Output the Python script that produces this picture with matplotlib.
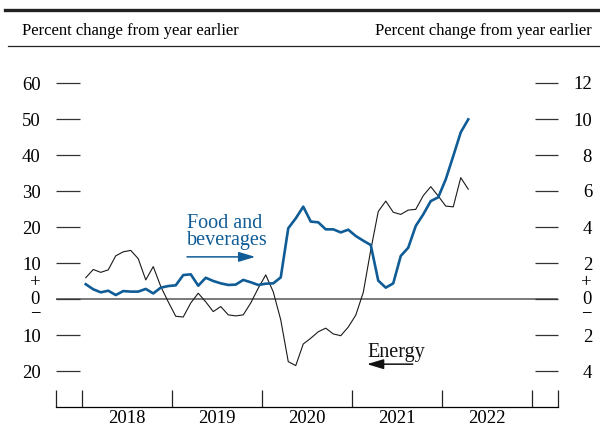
import matplotlib
matplotlib.use("Agg")
import matplotlib.pyplot as plt
from matplotlib.lines import Line2D
import numpy as np

plt.rcParams['font.family'] = ['Liberation Serif', 'DejaVu Serif']

# Monthly data, Jan 2018 - Apr 2022
energy = [5.9, 8.2, 7.4, 8.1, 12.0, 13.1, 13.5, 11.2, 5.3, 9.0, 3.5, -0.8,
          -4.8, -5.0, -1.1, 1.6, -0.8, -3.5, -2.1, -4.4, -4.7, -4.4, -1.1, 3.0,
          6.7, 2.0, -5.8, -17.4, -18.5, -12.5, -10.9, -9.1, -8.1, -9.7, -10.2, -7.8,
          -4.5, 1.8, 13.6, 24.3, 27.2, 24.1, 23.5, 24.7, 24.9, 28.7, 31.2, 28.6,
          25.8, 25.6, 33.7, 30.5]
food = [0.82, 0.54, 0.37, 0.46, 0.22, 0.44, 0.41, 0.41, 0.56, 0.31, 0.63, 0.72,
        0.76, 1.33, 1.37, 0.74, 1.18, 1.00, 0.87, 0.78, 0.80, 1.06, 0.93, 0.78,
        0.85, 0.87, 1.20, 3.93, 4.48, 5.13, 4.30, 4.26, 3.87, 3.87, 3.70, 3.85,
        3.50, 3.24, 3.00, 1.02, 0.63, 0.87, 2.39, 2.85, 4.06, 4.70, 5.44, 5.65,
        6.65, 7.94, 9.26, 9.98]
years = ["2018", "2019", "2020", "2021", "2022"]
left_ticks = [-20, -10, 0, 10, 20, 30, 40, 50, 60]
right_ticks = [-4, -2, 0, 2, 4, 6, 8, 10, 12]


def tick_text(v):
    return '+\n0\n\u2212' if v == 0 else str(abs(v))


BLUE = '#0f5c96'
W, H = 600, 432
fig = plt.figure(figsize=(6, 4.32), dpi=100)

x_left_px, x_right_px = 56, 558
y_bot_px = 407
ylo, yhi = -30, 66
px_per_unit = 3.6
y_top_px = 299 - yhi * px_per_unit
ax = fig.add_axes([x_left_px / W, 1 - y_bot_px / H,
                   (x_right_px - x_left_px) / W, (y_bot_px - y_top_px) / H])
ax.patch.set_alpha(0)

xm = np.arange(len(energy)) + 0.5
pad_months = 26 / 7.5
ax.set_xlim(-pad_months, 60 + pad_months)
ax.set_ylim(ylo, yhi)

ax2 = ax.twinx()
ax2.set_ylim(ylo / 5, yhi / 5)

# zero line
ax.axhline(0, color='#555555', lw=1.1, zorder=1)

ax.plot(xm, energy, color='#1a1a1a', lw=0.8, zorder=3)
ax2.plot(xm, food, color=BLUE, lw=1.9, zorder=3)

for a in (ax, ax2):
    for s in ['top', 'left', 'right']:
        a.spines[s].set_visible(False)
ax2.spines['bottom'].set_visible(False)
ax.spines['bottom'].set_linewidth(0.9)

fs = 13.5
ax.set_yticks(left_ticks)
ax.set_yticklabels([tick_text(v) for v in left_ticks], fontsize=fs)
ax.tick_params(axis='y', direction='in', length=17.5, width=0.9, color='#333333',
               pad=11, left=True, right=False)
ax2.set_yticks(right_ticks)
ax2.set_yticklabels([tick_text(v) for v in right_ticks], fontsize=fs)
ax2.tick_params(axis='y', direction='in', length=16.5, width=0.9, color='#333333',
                pad=24.5, right=True, left=False)
for lab in ax2.get_yticklabels():
    lab.set_horizontalalignment('right')
for a in (ax, ax2):
    for lab in a.get_yticklabels():
        if '\n' in lab.get_text():
            lab.set_multialignment('center')
            lab.set_linespacing(0.92)
            lab.set_verticalalignment('center')

xt = [-pad_months] + [12 * i for i in range(6)] + [60 + pad_months]
ax.set_xticks(xt)
ax.set_xticklabels([''] * len(xt))
ax.set_xticks([12 * i + 6 for i in range(5)], minor=True)
ax.set_xticklabels(years, minor=True, fontsize=fs)
ax.tick_params(axis='x', which='major', direction='in', length=12.2, width=0.9,
               color='#222222')
ax.tick_params(axis='x', which='minor', length=0, pad=2)

# series labels
lfs = 14.5
ax.text(14.0, 15.0, 'Food and\nbeverages', color=BLUE, fontsize=lfs, ha='left',
        va='baseline', linespacing=0.88)
ax.annotate('', xy=(23.1, 11.7), xytext=(14.0, 11.7),
            arrowprops=dict(arrowstyle='-|>,head_length=0.5,head_width=0.15',
                            mutation_scale=20, lw=1.1, color=BLUE,
                            shrinkA=0, shrinkB=0))
ax.text(38.0, -16.0, 'Energy', color='#111111', fontsize=lfs, ha='left', va='baseline')
ax.annotate('', xy=(38.0, -18.1), xytext=(44.1, -18.1),
            arrowprops=dict(arrowstyle='-|>,head_length=0.5,head_width=0.15',
                            mutation_scale=20, lw=1.1, color='#111111',
                            shrinkA=0, shrinkB=0))

# header rules and texts
fig.add_artist(Line2D([5 / W, 1], [1 - 10 / H, 1 - 10 / H], color='#222222', lw=2.4))
fig.add_artist(Line2D([8 / W, 1], [1 - 46 / H, 1 - 46 / H], color='#222222', lw=0.9))
hfs = 12
fig.text(22 / W, 1 - 31 / H, 'Percent change from year earlier', fontsize=hfs,
         ha='left', va='center')
fig.text(592 / W, 1 - 31 / H, 'Percent change from year earlier', fontsize=hfs,
         ha='right', va='center')

fig.savefig('out.png', dpi=100)
